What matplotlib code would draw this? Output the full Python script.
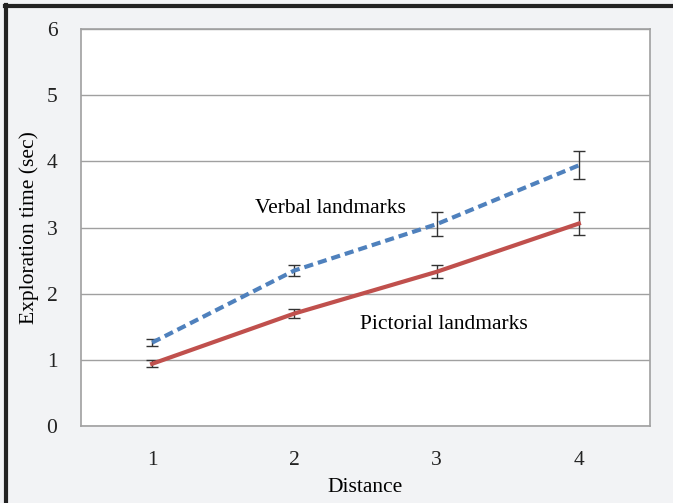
import numpy as np
import matplotlib.pyplot as plt
from matplotlib.lines import Line2D

# data
distance = [1, 2, 3, 4]
verbal = [1.26, 2.35, 3.05, 3.94]
verbal_err = [0.05, 0.09, 0.18, 0.21]
pictorial = [0.94, 1.70, 2.33, 3.06]
pictorial_err = [0.05, 0.07, 0.10, 0.17]
yticks = [0, 1, 2, 3, 4, 5, 6]

plt.rcParams['font.family'] = ['Liberation Serif', 'DejaVu Serif']
FS = 15.5

fig = plt.figure(figsize=(6.73, 5.03), dpi=100, facecolor='#f2f3f5')
ax = fig.add_axes([81/673, 1 - 426/503, (650-81)/673, (426-29)/503])
ax.set_facecolor('white')

ax.errorbar(distance, verbal, yerr=verbal_err, color='#4f81bd', lw=3,
            ls=(0, (2.2, 1.2)), ecolor='#333333', elinewidth=1, capsize=4.5, capthick=1, zorder=3)
ax.errorbar(distance, pictorial, yerr=pictorial_err, color='#c0504d', lw=3,
            ecolor='#333333', elinewidth=1, capsize=4.5, capthick=1, zorder=3)

ax.set_xlim(0.5, 4.5)
ax.set_ylim(0, 6)
ax.set_xticks(distance)
ax.set_yticks(yticks)
ax.tick_params(length=0, labelsize=FS, colors='#222222')
ax.tick_params(axis='y', pad=17)
ax.tick_params(axis='x', pad=18)
ax.grid(axis='y', color='#a0a0a0', lw=1)
ax.set_axisbelow(True)
for s in ax.spines.values():
    s.set_color('#a0a0a0')
    s.set_linewidth(1.2)

ax.set_xlabel('Distance', fontsize=FS, labelpad=6)
ax.set_ylabel('Exploration time (sec)', fontsize=FS)
ax.yaxis.set_label_coords(-0.074, 0.5)

ax.text(1.72, 3.29, 'Verbal landmarks', fontsize=FS, va='center')
ax.text(2.46, 1.53, 'Pictorial landmarks', fontsize=FS, va='center')

# outer frame (left and top)
fig.add_artist(Line2D([6/673, 6/673], [0, 1 - 5/503], color='#222222', lw=3, transform=fig.transFigure))
fig.add_artist(Line2D([5/673, 1], [1 - 6/503, 1 - 6/503], color='#222222', lw=3, transform=fig.transFigure))

fig.savefig('out.png', dpi=100, facecolor=fig.get_facecolor())
